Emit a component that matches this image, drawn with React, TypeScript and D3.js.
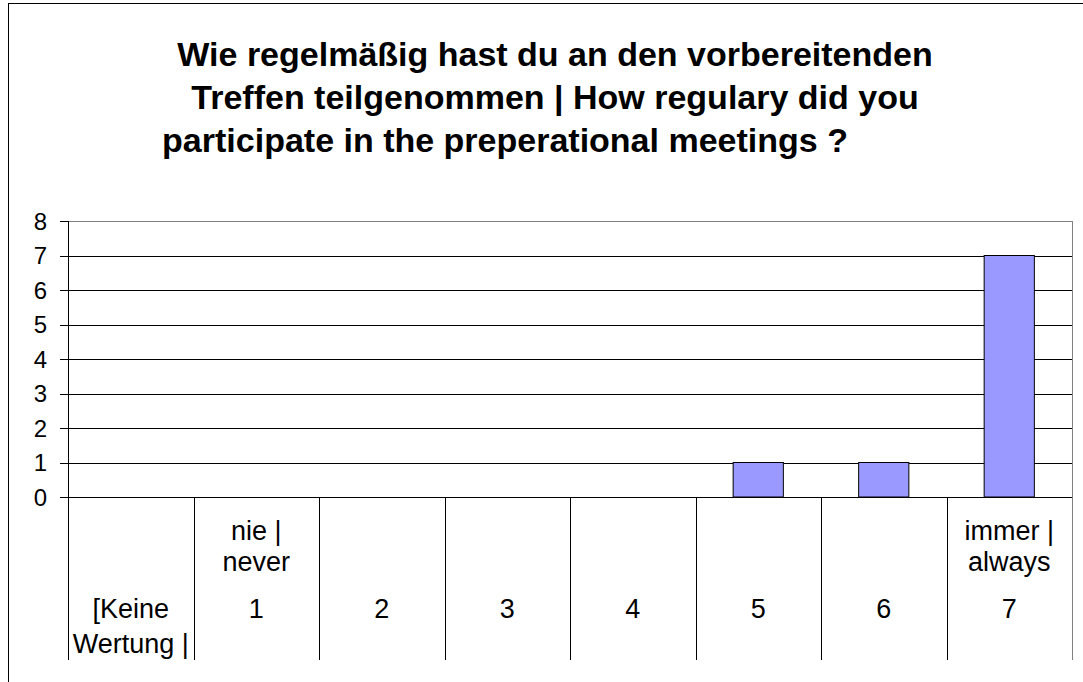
import React from "react";
import * as d3 from "d3";

const titleLines = [
  "Wie regelmäßig hast du an den vorbereitenden",
  "Treffen teilgenommen | How regulary did you",
  "participate in the preperational meetings ?",
];
const categories = ["[Keine Wertung |", "1", "2", "3", "4", "5", "6", "7"];
const upperLabels = [[], ["nie |", "never"], [], [], [], [], [], ["immer |", "always"]];
const mainLabels = [["[Keine", "Wertung |"], ["1"], ["2"], ["3"], ["4"], ["5"], ["6"], ["7"]];
const values = [0, 0, 0, 0, 0, 1, 1, 7];
const yTicks = [0, 1, 2, 3, 4, 5, 6, 7, 8];

export default function App() {
  const W = 1083, H = 682;
  const left = 68, right = 1072, top = 221, bottom = 497, axisBottom = 660;
  const x = d3.scaleBand<string>().domain(categories).range([left, right]).padding(0);
  const y = d3.scaleLinear().domain([0, 8]).range([bottom, top]);
  const bw = x.bandwidth() * 0.4;
  const font = "'Liberation Sans', Arial, sans-serif";
  const lf = 27;
  const tf = 24;

  return (
    <svg width={W} height={H} style={{ position: "absolute", left: 0, top: 0, background: "#fff" }} fontFamily={font}>
      <defs>
        <clipPath id="c0">
          <rect x={left} y={bottom} width={x.bandwidth()} height={axisBottom - bottom} />
        </clipPath>
      </defs>
      <rect x={8.5} y={3.5} width={W + 20} height={H + 20} fill="#fff" stroke="#000" strokeWidth={1} />
      {titleLines.map((t, i) => (
        <text key={i} x={i === 2 ? 505 : 555} y={66 + i * 43} textAnchor="middle" fontSize={34} fontWeight="bold" fill="#000">
          {t}
        </text>
      ))}
      {yTicks.map((v) => (
        <line key={"g" + v} x1={left} x2={right} y1={Math.round(y(v)) + 0.5} y2={Math.round(y(v)) + 0.5}
          stroke={v === 8 ? "#808080" : "#000"} strokeWidth={1} />
      ))}
      <line x1={right + 0.5} x2={right + 0.5} y1={top} y2={axisBottom} stroke="#808080" />
      {values.map((v, i) => v > 0 ? (
        <rect key={"b" + i} x={x(categories[i])! + (x.bandwidth() - bw) / 2} y={y(v)} width={bw} height={y(0) - y(v)}
          fill="#9999FF" stroke="#000" strokeWidth={1} />
      ) : null)}
      <line x1={left + 0.5} x2={left + 0.5} y1={top} y2={axisBottom} stroke="#000" />
      {yTicks.map((v) => (
        <g key={"t" + v}>
          <line x1={60} x2={left} y1={Math.round(y(v)) + 0.5} y2={Math.round(y(v)) + 0.5} stroke="#000" />
          <text x={47} y={y(v) + 8.5} textAnchor="end" fontSize={tf} fill="#000">{v}</text>
        </g>
      ))}
      {categories.map((c, i) => i > 0 ? (
        <line key={"s" + i} x1={Math.round(x(c)!) + 0.5} x2={Math.round(x(c)!) + 0.5} y1={bottom} y2={axisBottom} stroke="#000" />
      ) : null)}
      {categories.map((c, i) => {
        const cx = x(c)! + x.bandwidth() / 2;
        return (
          <g key={"l" + i} clipPath={i === 0 ? "url(#c0)" : undefined}>
            {upperLabels[i].map((t, j) => (
              <text key={"u" + j} x={cx} y={540 + j * 31} textAnchor="middle" fontSize={lf} fill="#000">{t}</text>
            ))}
            {mainLabels[i].map((t, j) => (
              <text key={"m" + j} x={cx} y={618 + j * 35} textAnchor="middle" fontSize={lf} fill="#000">{t}</text>
            ))}
          </g>
        );
      })}
    </svg>
  );
}
